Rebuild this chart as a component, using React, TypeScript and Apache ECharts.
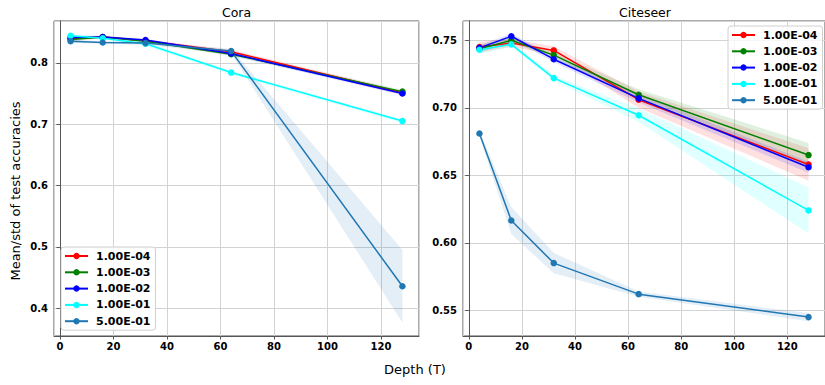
import React, { useEffect, useRef } from 'react';
import * as echarts from 'echarts';

const depths = [4, 16, 32, 64, 128];
const seriesNames = ['1.00E-04', '1.00E-03', '1.00E-02', '1.00E-01', '5.00E-01'];
const seriesColors = ['#ff0000', '#008000', '#0000ff', '#00ffff', '#1f77b4'];
const panelTitles = ['Cora', 'Citeseer'];

// Cora means / stds
const cora1e4 = [0.839, 0.842, 0.836, 0.818, 0.751];
const cora1e3 = [0.838, 0.842, 0.835, 0.814, 0.753];
const cora1e2 = [0.841, 0.842, 0.837, 0.815, 0.750];
const cora1e1 = [0.844, 0.840, 0.831, 0.784, 0.705];
const cora5e1 = [0.835, 0.833, 0.832, 0.819, 0.436];
const coraStd1e4 = [0.003, 0.002, 0.002, 0.003, 0.003];
const coraStd1e3 = [0.003, 0.002, 0.002, 0.003, 0.003];
const coraStd1e2 = [0.003, 0.002, 0.002, 0.003, 0.003];
const coraStd1e1 = [0.003, 0.002, 0.003, 0.003, 0.003];
const coraStd5e1 = [0.003, 0.002, 0.003, 0.004, 0.059];

// Citeseer means / stds
const cite1e4 = [0.745, 0.748, 0.7425, 0.706, 0.658];
const cite1e3 = [0.7437, 0.750, 0.739, 0.7097, 0.665];
const cite1e2 = [0.7444, 0.753, 0.736, 0.707, 0.656];
const cite1e1 = [0.743, 0.747, 0.722, 0.6945, 0.624];
const cite5e1 = [0.681, 0.6165, 0.585, 0.562, 0.545];
const citeStd1e4 = [0.004, 0.003, 0.003, 0.006, 0.012];
const citeStd1e3 = [0.003, 0.002, 0.002, 0.004, 0.009];
const citeStd1e2 = [0.002, 0.002, 0.002, 0.003, 0.004];
const citeStd1e1 = [0.003, 0.002, 0.002, 0.005, 0.017];
const citeStd5e1 = [0.002, 0.010, 0.0075, 0.002, 0.003];

const coraMeans = [cora1e4, cora1e3, cora1e2, cora1e1, cora5e1];
const coraStds = [coraStd1e4, coraStd1e3, coraStd1e2, coraStd1e1, coraStd5e1];
const citeMeans = [cite1e4, cite1e3, cite1e2, cite1e1, cite5e1];
const citeStds = [citeStd1e4, citeStd1e3, citeStd1e2, citeStd1e1, citeStd5e1];

const FONT = 'DejaVu Sans';

function buildSeries(idx: number, means: number[][], stds: number[][]) {
  const out: any[] = [];
  means.forEach((m, i) => {
    const lo = m.map((v, j) => v - stds[i][j]);
    const hi = m.map((v, j) => v + stds[i][j]);
    const color = seriesColors[i];
    out.push({
      type: 'custom',
      name: `band-${idx}-${i}`,
      xAxisIndex: idx,
      yAxisIndex: idx,
      silent: true,
      z: 1,
      data: [[...depths, ...lo, ...hi]],
      encode: { x: [0, 1, 2, 3, 4], y: [5, 6, 7, 8, 9, 10, 11, 12, 13, 14] },
      renderItem: (params: any, api: any) => {
        const n = depths.length;
        const upper: number[][] = [];
        const lower: number[][] = [];
        for (let j = 0; j < n; j++) {
          const x = api.value(j);
          lower.push(api.coord([x, api.value(n + j)]));
          upper.push(api.coord([x, api.value(2 * n + j)]));
        }
        return {
          type: 'polygon',
          shape: { points: upper.concat(lower.reverse()) },
          style: { fill: color, opacity: 0.12 },
          silent: true,
        };
      },
    });
  });
  means.forEach((m, i) => {
    out.push({
      type: 'line',
      name: seriesNames[i],
      xAxisIndex: idx,
      yAxisIndex: idx,
      z: 3,
      data: depths.map((d, j) => [d, m[j]]),
      symbol: 'circle',
      symbolSize: 6.5,
      showSymbol: true,
      itemStyle: { color: seriesColors[i] },
      lineStyle: { color: seriesColors[i], width: 1.5 },
    });
  });
  return out;
}

const spine = '#555555';
const gridColor = '#d3d3d3';

function xAxisOpt(idx: number) {
  return {
    type: 'value',
    gridIndex: idx,
    min: -2.2,
    max: 134.2,
    splitNumber: 7,
    axisLine: { show: true, lineStyle: { color: spine, width: 1 } },
    axisTick: { show: true, length: 3.5, lineStyle: { color: spine } },
    axisLabel: {
      show: true,
      showMinLabel: false,
      showMaxLabel: false,
      fontFamily: FONT,
      fontWeight: 'bold',
      fontSize: 10,
      color: '#000',
      margin: 5,
      formatter: (v: number) => String(Math.round(v)),
    },
    splitLine: { show: true, lineStyle: { color: gridColor, width: 1 } },
  };
}

function yAxisOpt(idx: number, min: number, max: number, digits: number) {
  return {
    type: 'value',
    gridIndex: idx,
    min,
    max,
    splitNumber: 5,
    axisLine: { show: true, lineStyle: { color: spine, width: 1 } },
    axisTick: { show: true, length: 3.5, lineStyle: { color: spine } },
    axisLabel: {
      show: true,
      showMinLabel: false,
      showMaxLabel: false,
      fontFamily: FONT,
      fontWeight: 'bold',
      fontSize: 10,
      color: '#000',
      margin: 6,
      formatter: (v: number) => v.toFixed(digits),
    },
    splitLine: { show: true, lineStyle: { color: gridColor, width: 1 } },
  };
}

function legendOpt(left: number, top: number) {
  return {
    data: seriesNames,
    orient: 'vertical',
    left,
    top,
    itemWidth: 23,
    itemHeight: 8,
    itemGap: 4.3,
    padding: [3, 5, 3, 3],
    backgroundColor: 'rgba(255,255,255,0.8)',
    borderColor: '#d0d0d0',
    borderWidth: 1,
    borderRadius: 3,
    textStyle: {
      fontFamily: FONT,
      fontWeight: 'bold',
      fontSize: 11,
      color: '#000',
      lineHeight: 12,
      padding: [0, 0, 0, 3],
    },
  };
}

export default function App() {
  const ref = useRef<HTMLDivElement>(null);
  useEffect(() => {
    if (!ref.current) return;
    const chart = echarts.init(ref.current, undefined, { renderer: 'svg' });
    const grids = [
      { left: 54, top: 21, width: 365, height: 315 },
      { left: 463, top: 21, width: 364, height: 315 },
    ];
    chart.setOption({
      animation: false,
      textStyle: { fontFamily: FONT },
      grid: grids.map((g) => ({
        ...g,
        show: true,
        borderColor: spine,
        borderWidth: 1,
        backgroundColor: 'transparent',
        containLabel: false,
      })),
      xAxis: [xAxisOpt(0), xAxisOpt(1)],
      yAxis: [yAxisOpt(0, 0.355, 0.868, 1), yAxisOpt(1, 0.531, 0.7643, 2)],
      legend: [legendOpt(61, 247), legendOpt(728, 26)],
      series: [...buildSeries(0, coraMeans, coraStds), ...buildSeries(1, citeMeans, citeStds)],
      graphic: [
        {
          type: 'text',
          x: 236.5,
          y: 12,
          style: { text: panelTitles[0], font: `12.5px "${FONT}"`, fill: '#000', align: 'center', verticalAlign: 'middle' },
        },
        {
          type: 'text',
          x: 645,
          y: 12,
          style: { text: panelTitles[1], font: `12.5px "${FONT}"`, fill: '#000', align: 'center', verticalAlign: 'middle' },
        },
        {
          type: 'text',
          x: 415,
          y: 369,
          style: { text: 'Depth (T)', font: `13px "${FONT}"`, fill: '#000', align: 'center', verticalAlign: 'middle' },
        },
        {
          type: 'text',
          x: 15,
          y: 191,
          rotation: Math.PI / 2,
          style: { text: 'Mean/std of test accuracies', font: `13px "${FONT}"`, fill: '#000', align: 'center', verticalAlign: 'middle' },
        },
      ],
    });
    return () => chart.dispose();
  }, []);
  return <div ref={ref} style={{ position: 'absolute', left: 0, top: 0, width: 825, height: 385 }} />;
}
